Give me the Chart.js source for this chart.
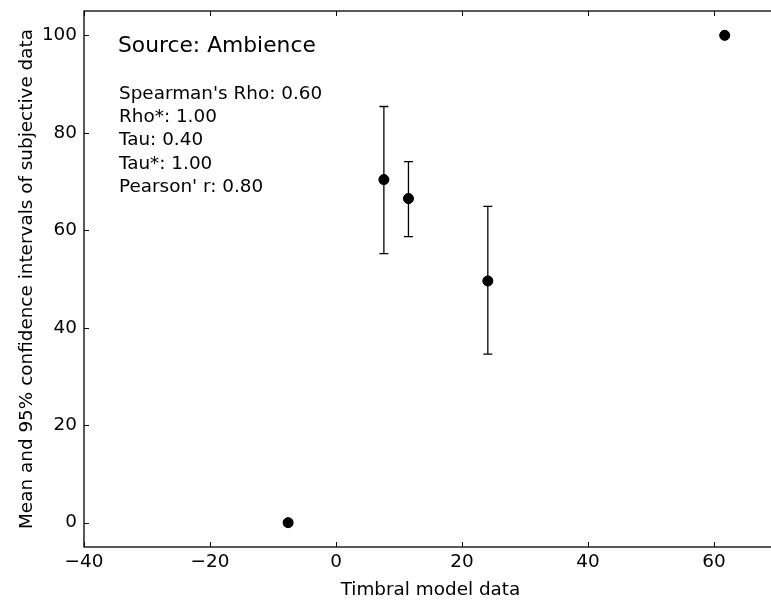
<!DOCTYPE html>
<html>
<head>
<meta charset="utf-8">
<script src="https://cdn.jsdelivr.net/npm/chart.js@4.4.1/dist/chart.umd.min.js"></script>
<style>
  html, body { margin: 0; padding: 0; background: #fff; overflow: hidden; }
  #wrap { width: 790px; height: 604px; position: relative; }
</style>
</head>
<body>
<div id="wrap"><canvas id="c"></canvas></div>
<script>
// ---- data ----
const xValues = [-7.6, 7.6, 11.5, 24.1, 61.7];
const yValues = [0, 70.4, 66.5, 49.6, 100];
const ciLow   = [null, 55.2, 58.7, 34.6, null];
const ciHigh  = [null, 85.4, 74.1, 64.9, null];
const xTitle = 'Timbral model data';
const yTitle = 'Mean and 95% confidence intervals of subjective data';
const sourceText = 'Source: Ambience';
const statLines = ["Spearman's Rho: 0.60", 'Rho*: 1.00', 'Tau: 0.40', 'Tau*: 1.00', "Pearson' r: 0.80"];

const FONT = "'DejaVu Sans', sans-serif";
const FS = 18.4;

const points = xValues.map((x, i) => ({ x: x, y: yValues[i] }));

const decorPlugin = {
  id: 'decor',
  afterDatasetsDraw(chart) {
    const ctx = chart.ctx;
    const xs = chart.scales.x, ys = chart.scales.y;
    const a = chart.chartArea;
    ctx.save();
    // error bars
    ctx.strokeStyle = '#000';
    ctx.lineWidth = 1.3;
    for (let i = 0; i < xValues.length; i++) {
      if (ciLow[i] == null) continue;
      const px = xs.getPixelForValue(xValues[i]);
      const pl = ys.getPixelForValue(ciLow[i]);
      const ph = ys.getPixelForValue(ciHigh[i]);
      ctx.beginPath();
      ctx.moveTo(px, pl); ctx.lineTo(px, ph);
      ctx.moveTo(px - 4.5, pl); ctx.lineTo(px + 4.5, pl);
      ctx.moveTo(px - 4.5, ph); ctx.lineTo(px + 4.5, ph);
      ctx.stroke();
    }
    // markers on top
    ctx.fillStyle = '#000';
    for (let i = 0; i < xValues.length; i++) {
      ctx.beginPath();
      ctx.arc(xs.getPixelForValue(xValues[i]), ys.getPixelForValue(yValues[i]), 5, 0, Math.PI * 2);
      ctx.fill();
    }
    // frame
    ctx.lineWidth = 1.3;
    ctx.strokeRect(a.left, a.top, a.right - a.left, a.bottom - a.top);
    // inward ticks
    ctx.lineWidth = 1;
    const tl = 5;
    xs.ticks.forEach(t => {
      const p = Math.round(xs.getPixelForValue(t.value)) + 0.5;
      ctx.beginPath();
      ctx.moveTo(p, a.bottom); ctx.lineTo(p, a.bottom - tl);
      ctx.moveTo(p, a.top); ctx.lineTo(p, a.top + tl);
      ctx.stroke();
    });
    ys.ticks.forEach(t => {
      const p = Math.round(ys.getPixelForValue(t.value)) + 0.5;
      ctx.beginPath();
      ctx.moveTo(a.left, p); ctx.lineTo(a.left + tl, p);
      ctx.moveTo(a.right, p); ctx.lineTo(a.right - tl, p);
      ctx.stroke();
    });
    // texts
    ctx.fillStyle = '#000';
    ctx.textAlign = 'left';
    ctx.textBaseline = 'alphabetic';
    ctx.font = '21.8px ' + FONT;
    ctx.fillText(sourceText, 118, 52);
    ctx.font = FS + 'px ' + FONT;
    statLines.forEach((s, i) => ctx.fillText(s, 119, 98.5 + i * 23.35));
    ctx.restore();
  }
};

new Chart(document.getElementById('c'), {
  type: 'scatter',
  data: {
    datasets: [{
      data: points,
      backgroundColor: '#000',
      borderColor: '#000',
      pointRadius: 5,
      pointHoverRadius: 5
    }]
  },
  options: {
    responsive: true,
    maintainAspectRatio: false,
    animation: false,
    events: [],
    layout: { padding: { left: 0, right: 13, top: 11, bottom: 0 } },
    plugins: { legend: { display: false }, tooltip: { enabled: false } },
    scales: {
      x: {
        type: 'linear',
        min: -40, max: 70,
        grid: { display: false },
        border: { display: false },
        ticks: { stepSize: 20, includeBounds: false, color: '#000', font: { family: FONT, size: FS }, padding: -4, maxRotation: 0,
                 callback: v => (v < 0 ? '\u2212' + Math.abs(v) : String(v)) },
        title: { display: true, text: xTitle, color: '#000', font: { family: FONT, size: FS }, padding: { top: 0, bottom: 3 } },
        afterFit: s => { s.height = 57; s.paddingLeft = 0; s.paddingRight = 0; }
      },
      y: {
        type: 'linear',
        min: -5, max: 105,
        grid: { display: false },
        border: { display: false },
        ticks: { stepSize: 20, includeBounds: false, color: '#000', font: { family: FONT, size: FS }, padding: -1 },
        title: { display: true, text: yTitle, color: '#000', font: { family: FONT, size: FS }, padding: { top: 16, bottom: 0 } },
        afterFit: s => { s.width = 84; s.paddingTop = 0; s.paddingBottom = 0; }
      }
    }
  },
  plugins: [decorPlugin]
});
</script>
</body>
</html>
